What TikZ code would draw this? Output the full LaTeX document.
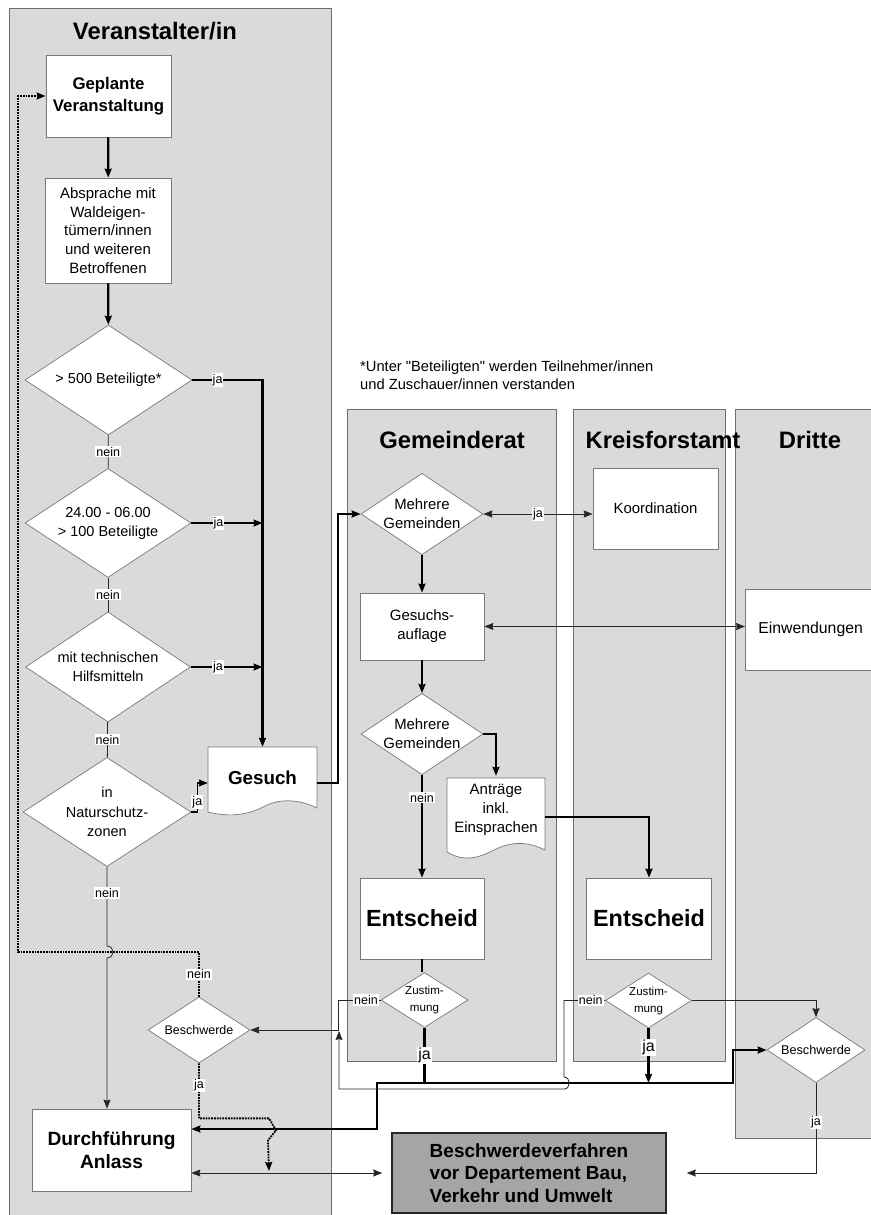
\documentclass[tikz,border=0pt]{standalone}
\usepackage{fontspec}
\setmainfont{Liberation Sans}
\usetikzlibrary{shapes.geometric}
\usetikzlibrary{positioning}
\usetikzlibrary{arrows.meta}

\begin{document}
\begin{tikzpicture}[x=1pt,y=-1pt,>={Stealth[length=9pt,width=7pt,inset=1pt]},
	lane/.style={draw=laneline,fill=lanefill,line width=0.7pt},
	title node/.style={font=\bfseries\fontsize{23.8}{26}\selectfont},
	box node/.style={rectangle,draw=boxline,fill=white,line width=0.7pt,align=center,inner sep=1pt},
	decision node/.style={diamond,aspect=1.5,draw=boxline,fill=white,line width=0.7pt,align=center,inner sep=0pt},
	doc node/.style={rectangle,align=center,inner sep=0pt},
	label node/.style={fill=white,inner sep=1pt,font=\fontsize{12.5}{14}\selectfont},
	thin line/.style={draw=black!85,line width=0.8pt},
	mid line/.style={line width=1.4pt},
	thick line/.style={line width=2.3pt},
	dot line/.style={line width=1.8pt,densely dotted}]
	
	\definecolor{lanefill}{RGB}{218,218,218}
	\definecolor{laneline}{RGB}{110,110,110}
	\definecolor{boxline}{RGB}{120,120,120}
	\definecolor{darkbox}{RGB}{165,165,165}
	
	\useasboundingbox (0,0) rectangle (870,1215);
	\fill[white] (0,0) rectangle (870,1215);
	
	% lanes
	\draw[lane] (9,8) rectangle (331,1222);
	\draw[lane] (347,409) rectangle (556,1061);
	\draw[lane] (573,409) rectangle (725,1061);
	\draw[lane] (735,409) rectangle (885,1138);
	
	\node[title node] (vtitle) at (155,31) {Veranstalter/in};
	\node[title node] (gtitle) at (452,440) {Gemeinderat};
	\node[title node] (ktitle) at (663,440) {Kreisforstamt};
	\node[title node] (dtitle) at (810,440) {Dritte};
	
	\node[anchor=north west,align=left,inner sep=0pt,font=\fontsize{14.7}{18}\selectfont] (note) at (360,361) {*Unter \textquotedbl Beteiligten\textquotedbl{} werden Teilnehmer/innen\\und Zuschauer/innen verstanden};
	
	% Veranstalter/in
	\node[box node,minimum width=125,minimum height=82,font=\bfseries\fontsize{16.8}{21.5}\selectfont] (geplant) at (108.5,96) {Geplante\\Veranstaltung};
	\node[box node,minimum width=126,minimum height=105,font=\fontsize{15}{18.8}\selectfont] (absprache) at (108,230.5) {Absprache mit\\Waldeigen-\\tümern/innen\\und weiteren\\Betroffenen};
	\node[decision node,minimum width=167,minimum height=110,font=\fontsize{14.5}{19}\selectfont] (d1) at (108.5,380) {> 500 Beteiligte*};
	\node[decision node,minimum width=166,minimum height=109,font=\fontsize{14.5}{19}\selectfont] (d2) at (108,523) {24.00 - 06.00\\> 100 Beteiligte};
	\node[decision node,minimum width=165,minimum height=110,font=\fontsize{14.5}{19}\selectfont] (d3) at (108,667) {mit technischen\\Hilfsmitteln};
	\node[decision node,minimum width=168,minimum height=109,font=\fontsize{14.5}{19.5}\selectfont] (d4) at (107,812) {in\\Naturschutz-\\zonen};
	
	\draw[draw=boxline,fill=white,line width=0.7pt] (208,747) -- (317,747) -- (317,808) .. controls (303,801) and (283,797) .. (265,806) .. controls (250,814) and (232,818) .. (208,812) -- cycle;
	\node[doc node,minimum width=109,minimum height=62,font=\bfseries\fontsize{18.8}{22}\selectfont] (gesuch) at (262.5,778) {Gesuch};
	
	\node[box node,minimum width=159,minimum height=82,font=\bfseries\fontsize{19.2}{23.5}\selectfont] (durch) at (111.5,1150) {Durchführung\\Anlass};
	\node[decision node,minimum width=102,minimum height=66,font=\fontsize{12.5}{14}\selectfont] (beschL) at (199,1030) {Beschwerde};
	
	% Gemeinderat
	\node[decision node,minimum width=122,minimum height=80,font=\fontsize{14.9}{19}\selectfont] (gd1) at (422,514) {Mehrere\\Gemeinden};
	\node[box node,minimum width=124,minimum height=67,font=\fontsize{15}{19}\selectfont] (gauflage) at (422,626.5) {Gesuchs-\\auflage};
	\node[decision node,minimum width=122,minimum height=81,font=\fontsize{14.9}{19}\selectfont] (gd2) at (422,734) {Mehrere\\Gemeinden};
	
	\draw[draw=boxline,fill=white,line width=0.7pt] (447,778) -- (545,778) -- (545,850) .. controls (531,843) and (515,840) .. (496,849) .. controls (481,857) and (465,863) .. (447,852) -- cycle;
	\node[doc node,minimum width=98,minimum height=68,font=\fontsize{15}{19}\selectfont] (antr) at (496,810) {Anträge\\inkl.\\Einsprachen};
	
	\node[box node,minimum width=124,minimum height=81,font=\bfseries\fontsize{23.4}{26}\selectfont] (gent) at (422,918.5) {Entscheid};
	\node[decision node,minimum width=87,minimum height=55,font=\fontsize{11.6}{17}\selectfont] (gz) at (424.5,1000) {Zustim-\\mung};
	
	% Kreisforstamt
	\node[box node,minimum width=125,minimum height=81,font=\fontsize{14.9}{18}\selectfont] (koord) at (655.5,508.5) {Koordination};
	\node[box node,minimum width=125,minimum height=81,font=\bfseries\fontsize{23.4}{26}\selectfont] (kent) at (649,918.5) {Entscheid};
	\node[decision node,minimum width=86,minimum height=55,font=\fontsize{11.6}{17}\selectfont] (kz) at (648.5,1000.5) {Zustim-\\mung};
	
	% Dritte
	\node[box node,minimum width=150,minimum height=81,anchor=west,text width=124,align=left,inner xsep=13,font=\fontsize{15.8}{20}\selectfont] (einw) at (745,629.5) {Einwendungen};
	\node[decision node,minimum width=98,minimum height=65,font=\fontsize{12.7}{14}\selectfont] (beschR) at (816,1050) {Beschwerde};
	
	\node[box node,fill=darkbox,draw=black!85,line width=1.6pt,minimum width=274,minimum height=80,align=left,font=\bfseries\fontsize{19}{22.5}\selectfont] (beschV) at (529,1173) {Beschwerdeverfahren\\vor Departement Bau,\\Verkehr und Umwelt};
	
	\coordinate (loopcorner) at (18,952);
	\coordinate (merge1) at (377,1083);
	\coordinate (merge2) at (733,1083);
	\coordinate (hit) at (269,1171);
	\coordinate (njoin) at (339,1031);
	
	% connectors
	\path[thick line,->]
	(geplant) edge (absprache)
	(absprache) edge (d1)
	(gd1) edge (gauflage)
	(gauflage) edge (gd2);
	
	\path[thin line]
	(d1) edge node[label node] {nein} (d2)
	(d2) edge node[label node] {nein} (d3)
	(d3) edge node[label node] {nein} (d4);
	
	\draw[thick line,->] (d1.east) -| node[label node,pos=0.18] {ja} (gesuch.north);
	\draw[mid line,->] (d2.east) -- node[label node,pos=0.38] {ja} (d2.east -| gesuch.north);
	\draw[mid line,->] (d3.east) -- node[label node,pos=0.38] {ja} (d3.east -| gesuch.north);
	\draw[mid line,->] (d4.east) -- ++(6,0) |- node[label node,pos=0.17] {ja} ([yshift=-5pt]gesuch.west);
	\draw[thin line,->] (d4.south) -- node[label node,pos=0.33] {nein} (107,946) .. controls (115,946) and (115,958) .. (107,958) -- (d4.south |- durch.north);
	
	\draw[dot line,->] (beschL.north) |- node[label node,pos=0.25] {nein} (loopcorner) |- (geplant.west);
	\draw[dot line,->] (beschL.south) -- node[label node,pos=0.4] {ja} ++(0,55) -- ++(70,0) -- ++(7,12) -- ++(-8,10) -- (hit);
	\draw[thin line,<->] (durch.east |- beschV.west) -- ([xshift=-9pt]beschV.west);
	
	\draw[thick line,->] ([yshift=-5pt]gesuch.east) -- ++(21,0) |- (gd1.west);
	\draw[thin line,<->] (gd1.east) -- node[label node] {ja} (gd1.east -| koord.west);
	\draw[thin line,<->] (gauflage.east) -- (gauflage.east -| einw.west);
	\draw[thick line,->] (gd2.east) -| (antr.north);
	\draw[thick line,->] (gd2.south) -- node[label node,pos=0.22] {nein} (gent.north);
	\draw[thick line,->] ([yshift=-7pt]antr.east) -| (kent.north);
	\draw[thick line] (gent.south) -- (gent.south |- gz.north);
	
	\draw[thick line] (gz.south) -- node[label node,font=\fontsize{16}{18}\selectfont] {ja} (gz.south |- merge1);
	\draw[thick line,->] (kz.south) -- node[label node,pos=0.35,font=\fontsize{16}{18}\selectfont] {ja} (kz.south |- merge1);
	\draw[thick line,<->] ([yshift=21pt]durch.east) -| (merge1) -- (merge2) |- (beschR.west);
	
	\draw[thin line,->] (gz.west) -- node[label node,pos=0.35] {nein} ++(-42,0) |- (beschL.east);
	\draw[thin line,->] (kz.west) -- node[label node,pos=0.35] {nein} (564,1000.5) -- (564,1077) .. controls (571,1077) and (571,1089) .. (564,1089) -- (339,1089) -- (njoin);
	\draw[thin line,->] (kz.east) -| (beschR.north);
	\draw[thin line,->] (beschR.south) |- node[label node,pos=0.22] {ja} ([xshift=20pt]beschV.east);
\end{tikzpicture}
\end{document}
